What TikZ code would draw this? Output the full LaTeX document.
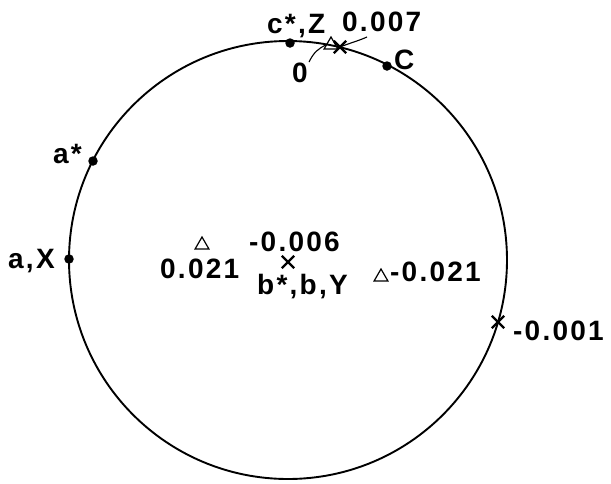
\documentclass[tikz,border=0pt]{standalone}
\usepackage{fontspec}
\newfontfamily\lblfamily[LetterSpace=8]{Liberation Sans}
\newcommand{\lblfont}{\lblfamily\bfseries\fontsize{28}{32}\selectfont}
\usetikzlibrary{shapes.geometric,shapes.misc}
\begin{document}
\begin{tikzpicture}[x=1pt,y=-1pt,
  lbl/.style={font=\lblfont, inner sep=0pt, anchor=base west},
  dotmark/.style={circle, fill=black, inner sep=0pt, minimum size=9.5pt},
  trimark/.style={regular polygon, regular polygon sides=3, draw, line width=1.2pt, inner sep=0pt, minimum size=16pt},
  xmark/.style={cross out, draw, line width=2.4pt, inner sep=0pt, minimum size=10pt},
  leader/.style={line width=1.1pt}]
\useasboundingbox (0,0) rectangle (611,483);
\node[circle, draw, line width=1.9pt, minimum size=438pt, inner sep=0pt] (ring) at (288,260) {};
% marks
\node[dotmark] (cz) at (290,43) {};
\node[trimark] (tt) at (331,45) {};
\node[xmark] (xt) at (340,47) {};
\node[dotmark] (cc) at (387,66) {};
\node[dotmark] (as) at (93,161) {};
\node[dotmark] (ax) at (69,259) {};
\node[trimark] (tl) at (202,245) {};
\node[xmark] (xc) at (288,262) {};
\node[trimark] (tr) at (381,277) {};
\node[xmark] (xr) at (498,322) {};
% labels
\node[lbl] (Lcz) at (267,33) {c*,Z};
\node[lbl] (L7) at (342,31) {0.007};
\node[lbl] (L0) at (292,82) {0};
\node[lbl] (LC) at (394,69) {C};
\node[lbl] (Las) at (53,163) {a*};
\node[lbl] (Lax) at (8,268) {a,X};
\node[lbl] (Ltl) at (160,278) {0.021};
\node[lbl] (Lxc) at (249,251) {-0.006};
\node[lbl] (Lb) at (257,294) {b*,b,Y};
\node[lbl] (Ltr) at (390,281) {-0.021};
\node[lbl] (Lxr) at (513,340) {-0.001};
% leaders
\coordinate (e0) at (309,62);
\coordinate (e7) at (367,37);
\draw[leader] (e0) .. controls (314,52) and (318,49) .. (tt.west);
\draw[leader] (xt.center) .. controls (350,43) and (358,41) .. (e7);
\end{tikzpicture}
\end{document}
